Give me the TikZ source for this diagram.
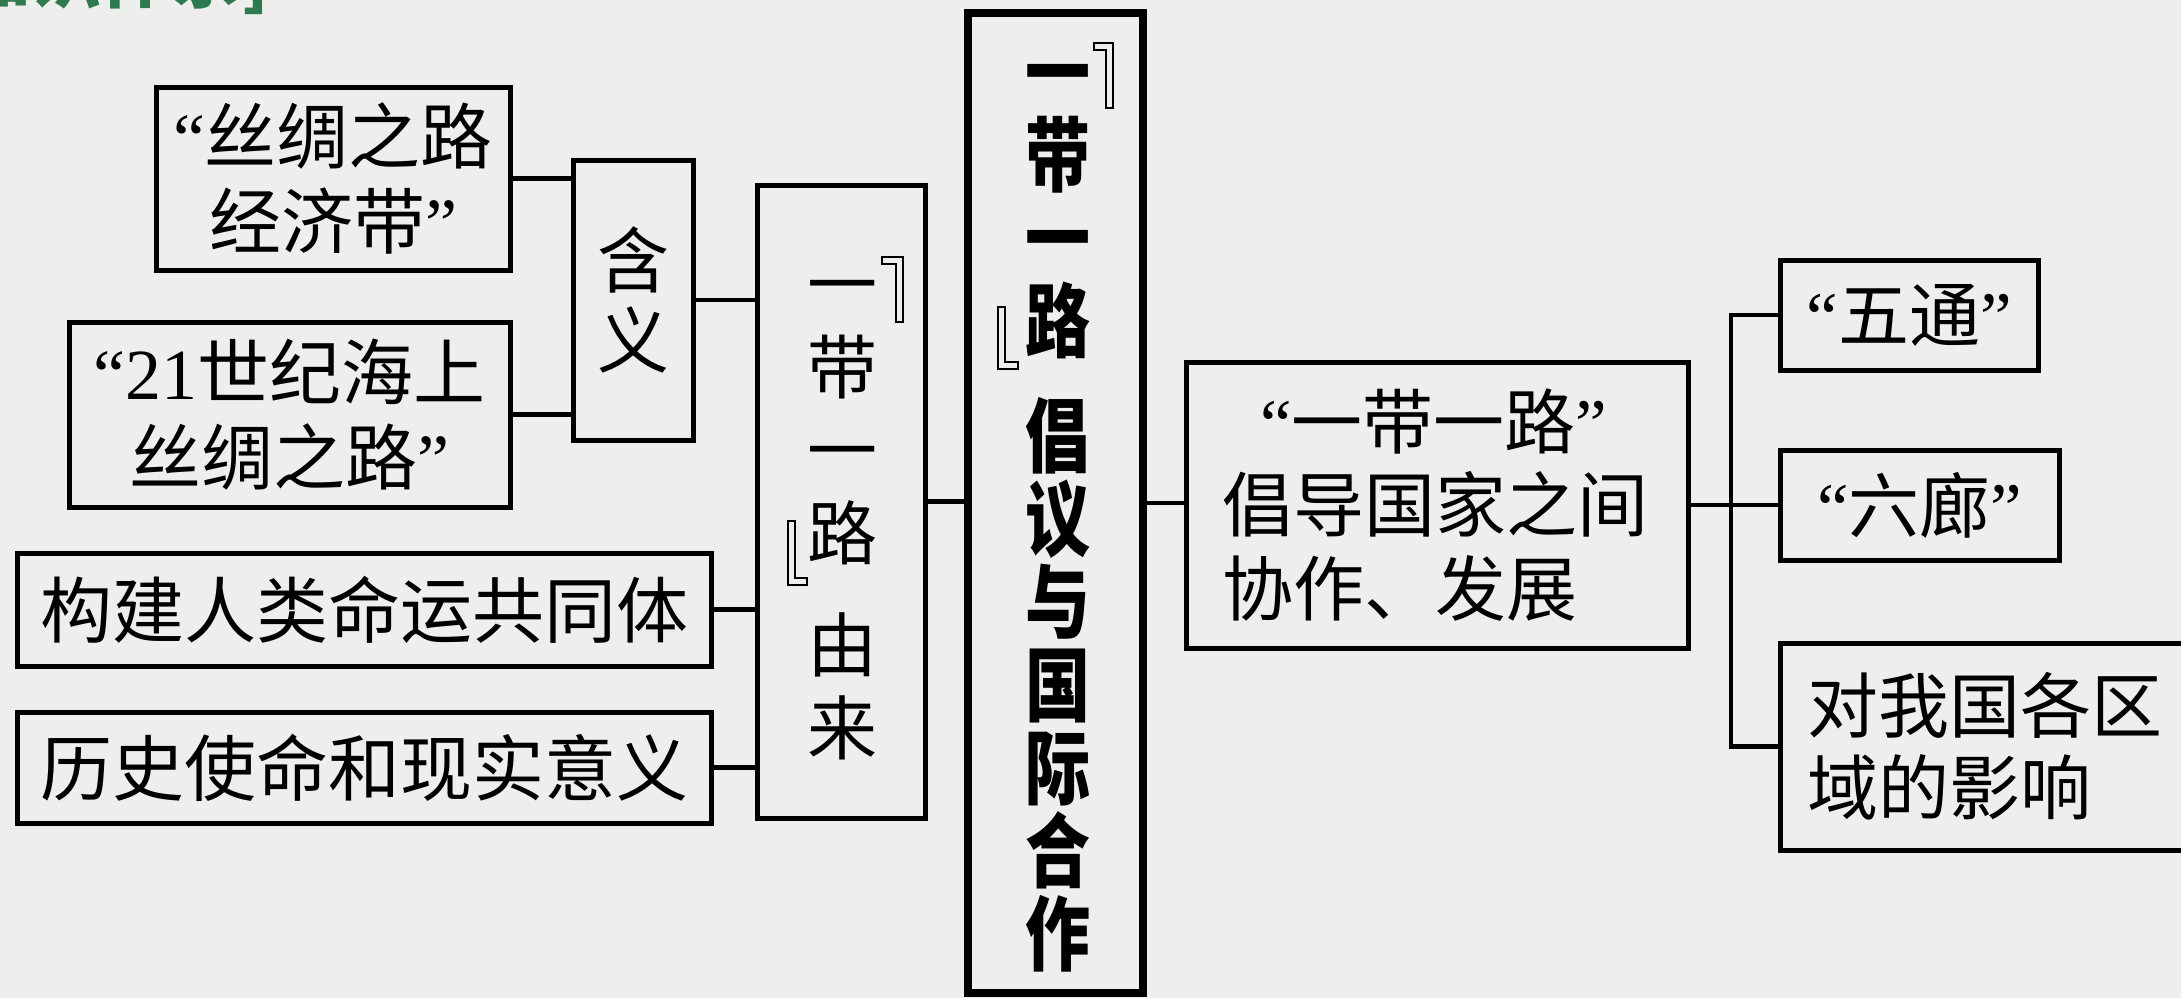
\documentclass[tikz,border=0pt]{standalone}
\usepackage{fontspec}
\IfFontExistsTF{FandolSong-Regular.otf}{\newfontfamily\song{FandolSong-Regular.otf}}{\newfontfamily\song{Noto Sans CJK SC}}
\newfontfamily\hei{Noto Sans CJK SC}
\newfontfamily\lat{Liberation Serif}
\newcommand\myfs[2]{\fontsize{#1}{#2}\selectfont}
\newcommand\emst{\rule[-0.12em]{0pt}{1em}}
\definecolor{bgc}{RGB}{238,238,236}
\definecolor{ttl}{RGB}{46,122,78}
\tikzset{
  box/.style={draw=black, line width=5pt, rectangle, inner sep=0pt, align=center, font=\song\myfs{72}{85}},
  vtext/.style={inner sep=0pt, align=center},
  conn/.style={draw=black, line width=4.6pt, line join=miter},
  brk/.style={draw=black, line width=2.2pt, line join=miter}
}
\begin{document}
\begin{tikzpicture}[x=1pt,y=-1pt]
\useasboundingbox (0,0) rectangle (2181,998);
\begin{scope}
\clip (0,0) rectangle (2181,998);
\fill[bgc] (0,0) rectangle (2181,998);
% title (cut by the top edge, as in the reference)
\node[anchor=base east, text=ttl, font=\hei\bfseries\myfs{70}{80}, inner sep=0pt] (title) at (270,3) {[知识体系]};
% left boxes
\node[box, minimum width=354pt, minimum height=183pt] (A) at (333,178.5) {{\lat “}丝绸之路\\经济带{\lat ”}};
\node[box, minimum width=441pt, minimum height=185pt] (B) at (289.5,414.5) {{\lat “21}世纪海上\\丝绸之路{\lat ”}};
\node[box, minimum width=120pt, minimum height=280pt, font=\song\myfs{72}{80}] (yi) at (633,300) {含\\义};
\node[box, minimum width=694pt, minimum height=113pt] (C) at (364,609.5) {构建人类命运共同体};
\node[box, minimum width=694pt, minimum height=111pt] (D) at (364,767.5) {历史使命和现实意义};
\node[box, minimum width=168pt, minimum height=633pt] (yl) at (841,501.5) {};
\node[vtext, font=\song\myfs{70}{83}] (ylt) at (842,506) {\emst 一\\带\\一\\路\\[29pt]由\\来\emst};
% centre
\node[box, line width=8pt, minimum width=175pt, minimum height=980pt] (ctr) at (1055.5,503) {};
\node[vtext, yscale=1.25, font=\hei\bfseries\myfs{65}{66.4}] (ctrt) at (1058,503) {\emst 一\\带\\一\\路\\[25.6pt]倡\\议\\与\\国\\际\\合\\作\emst};
% right
\node[box, align=left, text width=430pt, minimum width=502pt, minimum height=286pt, font=\song\myfs{71}{83.5}] (R) at (1437,505) {\hspace*{38pt}{\lat “}一带一路{\lat ”}\\倡导国家之间\\协作、发展};
\node[box, minimum width=258pt, minimum height=110pt, font=\song\myfs{71}{83}] (wt) at (1909,315) {{\lat “}五通{\lat ”}};
\node[box, minimum width=279pt, minimum height=110pt, font=\song\myfs{71}{83}] (ll) at (1919.5,505) {{\lat “}六廊{\lat ”}};
\node[box, align=left, text width=426pt, minimum width=480pt, minimum height=207pt, font=\song\myfs{71}{82}] (yx) at (2020,746.5) {对我国各区\\域的影响};
% brackets of the vertical titles
\draw[brk] (1094,43) -- (1113,43) -- (1113,108) -- (1106,108) -- (1106,50) -- (1094,50) -- cycle;
\draw[brk] (998,307) -- (1005,307) -- (1005,362) -- (1018,362) -- (1018,369) -- (998,369) -- cycle;
\draw[brk] (882,257) -- (903,257) -- (903,322) -- (896,322) -- (896,264) -- (882,264) -- cycle;
\draw[brk] (788,521) -- (795,521) -- (795,578) -- (807,578) -- (807,585) -- (788,585) -- cycle;
% connectors
\draw[conn] (A.east) -- (A.east -| yi.west);
\draw[conn] (B.east) -- (B.east -| yi.west);
\draw[conn] (yi.east) -- (yi.east -| yl.west);
\draw[conn] (C.east) -- (C.east -| yl.west);
\draw[conn] (D.east) -- (D.east -| yl.west);
\draw[conn] (yl.east) -- (yl.east -| ctr.west);
\draw[conn] (ctr.east) -- (ctr.east -| R.west);
\coordinate (bus) at (1731,505);
\draw[conn] (R.east) -- (R.east -| bus);
\draw[conn] (wt.west) -- (wt.west -| bus) -- (yx.west -| bus) -- (yx.west);
\draw[conn] (ll.west) -- (ll.west -| bus);
\end{scope}
\end{tikzpicture}
\end{document}
